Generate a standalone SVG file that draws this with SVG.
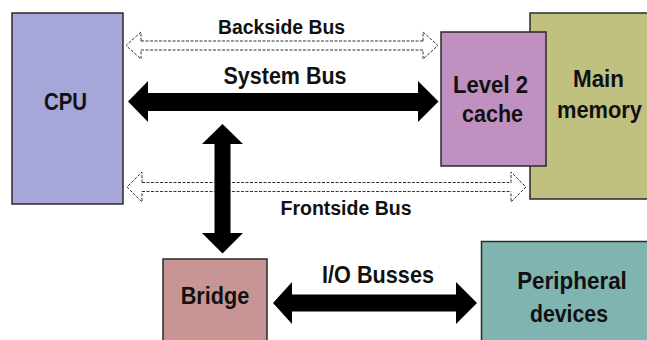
<svg xmlns="http://www.w3.org/2000/svg" width="647" height="340" viewBox="0 0 647 340">
<style>
.box{stroke:#2a2a2a;stroke-width:1.5}
.t{font-family:"Liberation Sans",Arial,sans-serif;font-weight:bold;fill:#111;text-anchor:middle}
.solid{fill:#000;stroke:none}
.dash{fill:none;stroke:#333;stroke-width:1;stroke-dasharray:3,1.5}
</style>
<rect width="647" height="340" fill="#fff"/>
<g id="cpu">
<rect class="box" x="12" y="13" width="111" height="191" fill="#a6a6d8"/>
<text class="t" x="65.5" y="110" font-size="23" textLength="43" lengthAdjust="spacingAndGlyphs">CPU</text>
</g>
<g id="main-memory">
<rect class="box" x="530" y="13" width="125" height="186" fill="#c0c080"/>
<text class="t" x="598.5" y="87" font-size="23" textLength="51" lengthAdjust="spacingAndGlyphs">Main</text>
<text class="t" x="599.5" y="118" font-size="23" textLength="85" lengthAdjust="spacingAndGlyphs">memory</text>
</g>
<g id="l2-cache">
<rect class="box" x="441" y="32" width="105" height="134" fill="#c090c0"/>
<text class="t" x="490.5" y="93" font-size="24" textLength="75" lengthAdjust="spacingAndGlyphs">Level 2</text>
<text class="t" x="492.5" y="122" font-size="24" textLength="61" lengthAdjust="spacingAndGlyphs">cache</text>
</g>
<g id="bridge">
<rect class="box" x="163" y="259" width="104" height="90" fill="#c89494"/>
<text class="t" x="215" y="304" font-size="24" textLength="68.6" lengthAdjust="spacingAndGlyphs">Bridge</text>
</g>
<g id="peripheral">
<rect class="box" x="481.5" y="241.5" width="175" height="110" fill="#80b4b0"/>
<text class="t" x="572" y="289.3" font-size="24" textLength="109.7" lengthAdjust="spacingAndGlyphs">Peripheral</text>
<text class="t" x="569" y="321.7" font-size="24" textLength="78" lengthAdjust="spacingAndGlyphs">devices</text>
</g>
<g id="connectors">
<g id="backside-bus">
<path class="dash" d="M141,41 H423 M141,50 H423"/>
<path class="dash" d="M141,41 V32 L126,45.5 L141,59 V50"/>
<path class="dash" d="M423,41 V32 L438,45.5 L423,59 V50"/>
<text class="t" x="281.5" y="34" font-size="20" textLength="127" lengthAdjust="spacingAndGlyphs">Backside Bus</text>
</g>
<g id="system-bus">
<path class="solid" d="M128,101.5 L148,81 V93 H418 V81 L438.5,101.5 L418,122 V111 H148 V122 Z"/>
<text class="t" x="285" y="84" font-size="23" textLength="123" lengthAdjust="spacingAndGlyphs">System Bus</text>
</g>
<g id="frontside-bus">
<path class="dash" d="M142,182.5 H511 M142,191.5 H511"/>
<path class="dash" d="M142,182.5 V172 L127,187 L142,202 V191.5"/>
<path class="dash" d="M511,182.5 V172 L526,187 L511,202 V191.5"/>
<text class="t" x="346" y="215" font-size="20" textLength="131" lengthAdjust="spacingAndGlyphs">Frontside Bus</text>
</g>
<g id="bridge-link">
<path class="solid" d="M222.5,124 L243,144 H230.5 V233 H243 L222.5,253.5 L202,233 H214.5 V144 H202 Z"/>
</g>
<g id="io-busses">
<path class="solid" d="M273,303 L292,282 V294.5 H456 V282 L477,303 L456,324 V311.5 H292 V324 Z"/>
<text class="t" x="378" y="282.7" font-size="24" textLength="112" lengthAdjust="spacingAndGlyphs">I/O Busses</text>
</g>
</g>
</svg>
